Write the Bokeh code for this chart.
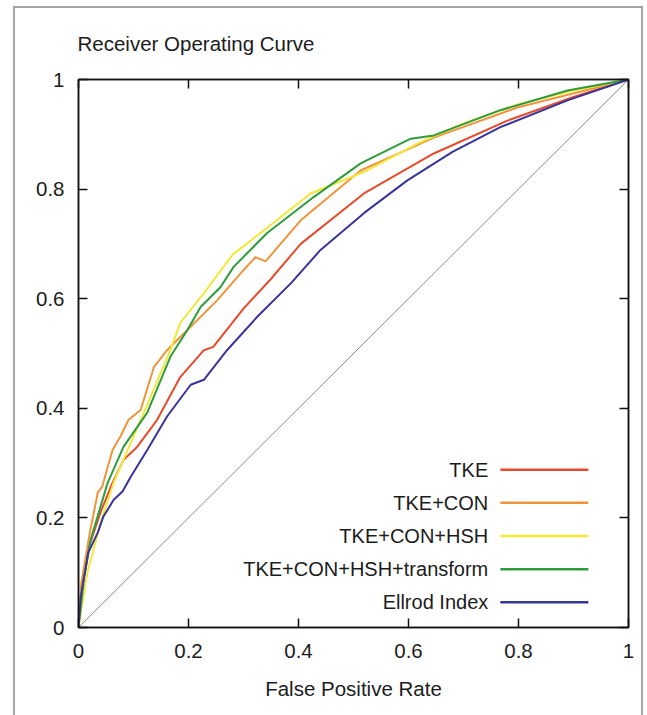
from bokeh.plotting import figure
from bokeh.models import Range1d, LinearAxis, ColumnDataSource
from bokeh.core.properties import value
from bokeh.embed import file_html
from bokeh.resources import INLINE

# ---------------- data ----------------
title_text = "Receiver Operating Curve"
x_label = "False Positive Rate"
tick_values = [0, 0.2, 0.4, 0.6, 0.8, 1]
tick_labels = ["0", "0.2", "0.4", "0.6", "0.8", "1"]

series_names = ["TKE", "TKE+CON", "TKE+CON+HSH", "TKE+CON+HSH+transform", "Ellrod Index"]
series_colors = ["#e54b2c", "#f0943c", "#f2e83a", "#2f9c3c", "#37349a"]

tke_x = [0, 0.005, 0.02, 0.04, 0.06, 0.082, 0.107, 0.143, 0.185, 0.228, 0.245, 0.30, 0.349, 0.404, 0.519, 0.646, 0.78, 0.9, 1]
tke_y = [0, 0.07, 0.15, 0.21, 0.26, 0.306, 0.33, 0.379, 0.457, 0.506, 0.512, 0.582, 0.635, 0.70, 0.792, 0.865, 0.925, 0.968, 1]

con_x = [0, 0.005, 0.02, 0.035, 0.043, 0.062, 0.076, 0.091, 0.113, 0.137, 0.161, 0.198, 0.252, 0.30, 0.322, 0.34, 0.404, 0.513, 0.646, 0.798, 1]
con_y = [0, 0.08, 0.17, 0.246, 0.257, 0.324, 0.348, 0.379, 0.397, 0.475, 0.506, 0.543, 0.597, 0.652, 0.676, 0.668, 0.743, 0.834, 0.894, 0.949, 1]

hsh_x = [0, 0.016, 0.04, 0.064, 0.095, 0.131, 0.167, 0.185, 0.228, 0.28, 0.331, 0.422, 0.525, 0.616, 0.7, 0.8, 0.9, 1]
hsh_y = [0, 0.10, 0.19, 0.265, 0.337, 0.421, 0.506, 0.556, 0.61, 0.68, 0.72, 0.792, 0.834, 0.883, 0.92, 0.955, 0.98, 1]

trf_x = [0, 0.01, 0.022, 0.053, 0.082, 0.125, 0.167, 0.198, 0.222, 0.258, 0.282, 0.343, 0.427, 0.513, 0.604, 0.646, 0.767, 0.889, 1]
trf_y = [0, 0.09, 0.16, 0.264, 0.33, 0.392, 0.494, 0.543, 0.585, 0.621, 0.658, 0.72, 0.785, 0.847, 0.892, 0.898, 0.944, 0.98, 1]

ell_x = [0, 0.004, 0.018, 0.035, 0.045, 0.064, 0.08, 0.095, 0.125, 0.161, 0.204, 0.228, 0.27, 0.325, 0.386, 0.44, 0.52, 0.598, 0.68, 0.767, 0.889, 1]
ell_y = [0, 0.056, 0.137, 0.173, 0.202, 0.233, 0.248, 0.275, 0.324, 0.385, 0.443, 0.452, 0.506, 0.567, 0.628, 0.689, 0.757, 0.816, 0.868, 0.913, 0.962, 1]

diag_x = [0, 1]
diag_y = [0, 1]

series_x = [tke_x, con_x, hsh_x, trf_x, ell_x]
series_y = [tke_y, con_y, hsh_y, trf_y, ell_y]

# ---------------- layout ----------------
FONT = "Liberation Sans"
TXT = "#1c1c1c"
W, H = 647, 715
FRAME = "#a4a4a4"

# light picture frame (left, top, right edges) drawn as CSS inset shadows of the host element
frame_css = ", ".join([
    "inset 13px 0 0 0 #ffffff",
    "inset -4px 0 0 0 #ffffff",
    "inset 0 6px 0 0 #ffffff",
    f"inset 15px 0 0 0 {FRAME}",
    f"inset -6px 0 0 0 {FRAME}",
    f"inset 0 8px 0 0 {FRAME}",
])

p = figure(width=W, height=H, output_backend="svg", toolbar_location=None,
           x_range=Range1d(0, 1), y_range=Range1d(0, 1),
           min_border_left=78, min_border_right=19, min_border_top=79, min_border_bottom=88,
           styles={"box-shadow": frame_css, "background-color": "#ffffff"})

p.grid.visible = False
p.outline_line_color = "#111111"
p.outline_line_width = 1.5
p.background_fill_color = "white"
p.border_fill_color = None

p.title.text = title_text
p.title.text_font = FONT
p.title.text_font_size = "20.5px"
p.title.text_font_style = "normal"
p.title.text_color = TXT
p.title.align = "left"
p.title.vertical_align = "top"
p.title.standoff = 46
p.title.offset = -1

overrides = {v: l for v, l in zip(tick_values, tick_labels)}
for ax in (p.xaxis[0], p.yaxis[0]):
    ax.ticker = tick_values
    ax.major_label_overrides = overrides
    ax.major_tick_in = 9
    ax.major_tick_out = 0
    ax.minor_tick_line_color = None
    ax.axis_line_color = "#111111"
    ax.axis_line_width = 1.5
    ax.major_tick_line_color = "#111111"
    ax.major_tick_line_width = 1.5
    ax.major_label_text_font = FONT
    ax.major_label_text_font_size = "20.5px"
    ax.major_label_text_color = TXT

p.xaxis.major_label_standoff = 16
p.yaxis.major_label_standoff = 14
p.xaxis.axis_label = x_label
p.xaxis.axis_label_text_font = FONT
p.xaxis.axis_label_text_font_size = "20.5px"
p.xaxis.axis_label_text_font_style = "normal"
p.xaxis.axis_label_text_color = TXT
p.xaxis.axis_label_standoff = 16

# mirrored ticks on top and right
for loc in ("above", "right"):
    ax = LinearAxis(ticker=tick_values)
    ax.major_tick_in = 9
    ax.major_tick_out = 0
    ax.minor_tick_line_color = None
    ax.axis_line_color = "#111111"
    ax.axis_line_width = 1.5
    ax.major_tick_line_color = "#111111"
    ax.major_tick_line_width = 1.5
    ax.major_label_text_font_size = "1px"
    ax.major_label_text_color = None
    ax.major_label_standoff = 0
    p.add_layout(ax, loc)

# diagonal reference
p.line(diag_x, diag_y, line_color="#8c8c8c", line_width=1)

# curves
for xs, ys, c in zip(series_x, series_y, series_colors):
    p.line(xs, ys, line_color=c, line_width=2)

# gnuplot-style legend (text right-aligned, sample line to the right)
leg_text_x = 0.745
leg_line_x0 = 0.767
leg_line_x1 = 0.927
leg_top = 0.288
leg_step = 0.0605
leg_y = [leg_top - i * leg_step for i in range(len(series_names))]
src = ColumnDataSource(dict(name=series_names, color=series_colors, y=leg_y,
                            tx=[leg_text_x] * len(series_names),
                            x0=[leg_line_x0] * len(series_names),
                            x1=[leg_line_x1] * len(series_names)))
p.text(x="tx", y="y", text="name", source=src, text_align="right", text_baseline="middle",
       text_font=value(FONT), text_font_size="20px", text_color=TXT)
p.segment(x0="x0", y0="y", x1="x1", y1="y", color="color", line_width=2.5, source=src)

open("out.html", "w").write(file_html(p, INLINE))
